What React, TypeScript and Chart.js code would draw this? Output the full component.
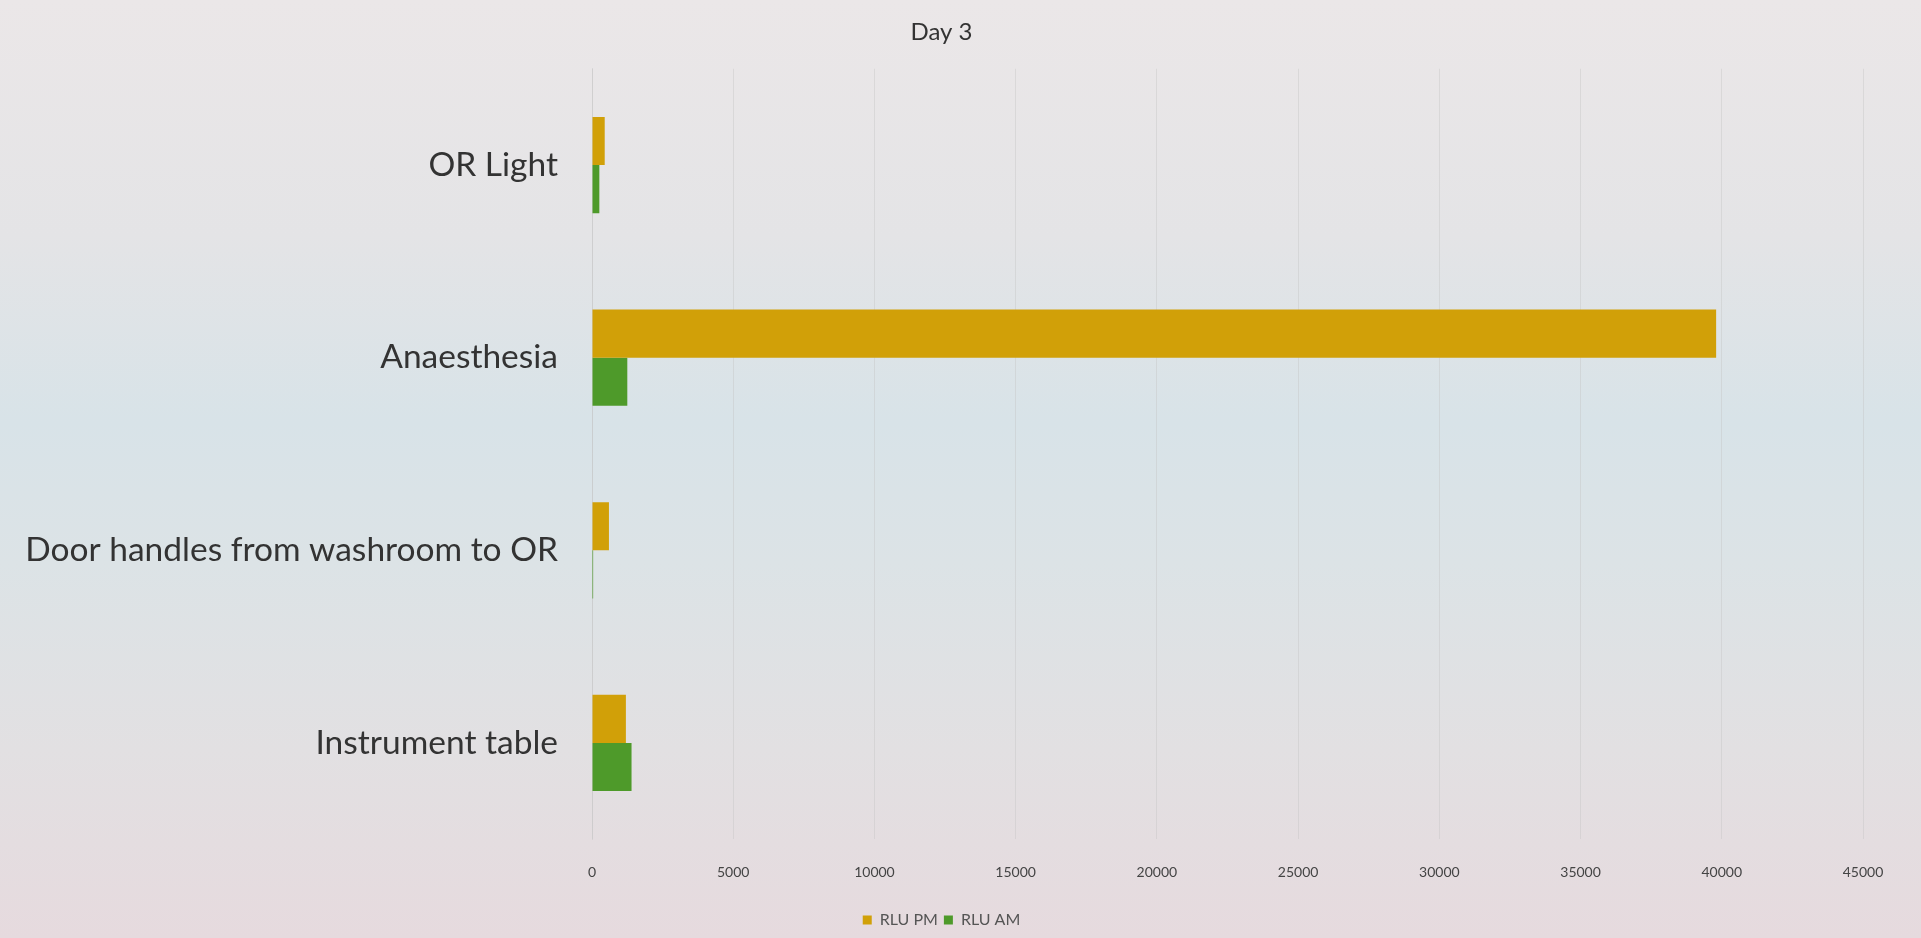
import React, { useEffect, useRef } from "react";
import { Chart, registerables } from "chart.js";

Chart.register(...registerables);

const categories = ["OR Light", "Anaesthesia", "Door handles from washroom to OR", "Instrument table"];
const rluPM = [450, 39800, 600, 1200];
const rluAM = [260, 1250, 40, 1400];
const xTicks = [0, 5000, 10000, 15000, 20000, 25000, 30000, 35000, 40000, 45000];
const titleText = "Day 3";

export default function App() {
  const ref = useRef<HTMLCanvasElement | null>(null);
  useEffect(() => {
    if (!ref.current) return;
    const chart = new Chart(ref.current, {
      type: "bar",
      data: {
        labels: categories,
        datasets: [
          { label: "RLU PM", data: rluPM, backgroundColor: "#D1A008", borderWidth: 0 },
          { label: "RLU AM", data: rluAM, backgroundColor: "#4E9A2A", borderWidth: 0 },
        ],
      },
      options: {
        indexAxis: "y",
        animation: false,
        responsive: true,
        maintainAspectRatio: false,
        datasets: { bar: { barPercentage: 1, categoryPercentage: 0.5 } },
        layout: { padding: { left: 20, right: 58, top: 0, bottom: 0 } },
        plugins: {
          title: {
            display: true,
            text: titleText,
            color: "#333",
            font: { family: "Lato", size: 24, weight: "normal" },
            padding: { top: 18, bottom: 22 },
          },
          legend: {
            position: "bottom",
            labels: {
              color: "#555",
              font: { family: "Lato", size: 16 },
              boxWidth: 9,
              boxHeight: 9,
              padding: 6,
            },
          },
          tooltip: { enabled: false },
        },
        scales: {
          x: {
            min: 0,
            max: 45000,
            afterBuildTicks: (axis: any) => {
              axis.ticks = xTicks.map((v) => ({ value: v }));
            },
            grid: { color: "rgba(195,195,195,0.4)", drawTicks: false },
            border: { display: false },
            ticks: {
              color: "#444",
              font: { family: "Lato", size: 14 },
              padding: 25,
              callback: (v: any) => String(v),
            },
          },
          y: {
            afterFit: (axis: any) => {
              axis.width = 572;
            },
            grid: { display: false, drawTicks: false },
            border: { display: true, color: "rgba(195,195,195,0.4)" },
            ticks: {
              color: "#333",
              font: { family: "Lato", size: 33.5 },
              padding: 34,
            },
          },
        },
      },
    });
    return () => chart.destroy();
  }, []);
  return (
    <div
      style={{
        position: "fixed",
        left: 0,
        top: 0,
        width: "100vw",
        height: "100vh",
        background:
          "linear-gradient(180deg, #ebe7e8 0%, #e4e4e6 25%, #d8e3e8 45%, #dce3e6 60%, #e2e0e2 80%, #e6dade 100%)",
      }}
    >
      <canvas ref={ref} />
    </div>
  );
}
